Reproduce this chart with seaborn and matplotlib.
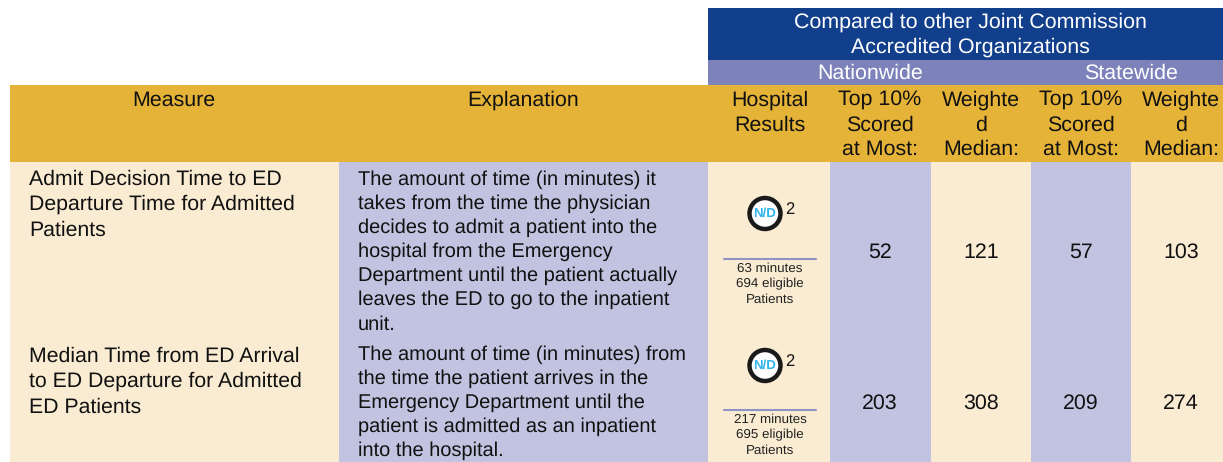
import numpy as np
import matplotlib
matplotlib.use("Agg")
import matplotlib.pyplot as plt
from matplotlib.colors import ListedColormap
from matplotlib.patches import Circle
import seaborn as sns

measures = ["Admit Decision Time to ED\nDeparture Time for Admitted\nPatients",
            "Median Time from ED Arrival\nto ED Departure for Admitted\nED Patients"]
explanations = ["The amount of time (in minutes) it\ntakes from the time the physician\ndecides to admit a patient into the\nhospital from the Emergency\nDepartment until the patient actually\nleaves the ED to go to the inpatient\nunit.",
                "The amount of time (in minutes) from\nthe time the patient arrives in the\nEmergency Department until the\npatient is admitted as an inpatient\ninto the hospital."]
hospital_notes = ["63 minutes\n694 eligible\nPatients", "217 minutes\n695 eligible\nPatients"]
nation_top = [52, 203]
nation_median = [121, 308]
state_top = [57, 209]
state_median = [103, 274]
col_titles = ["Measure", "Explanation", "Hospital\nResults", "Top 10%\nScored\nat Most:",
              "Weighte\nd\nMedian:", "Top 10%\nScored\nat Most:", "Weighte\nd\nMedian:"]

# colour of each table block, pixel widths / heights of the blocks
palette = ["#FFFFFF", "#123F8C", "#7D83BA", "#E4B338", "#F9ECD2", "#C1C3E0"]
col_widths = [10, 329, 369, 122, 101, 100, 100, 92]
row_heights = [8, 52, 25, 77, 300]
codes = np.array([[0, 0, 0, 0, 0, 0, 0, 0],
                  [0, 0, 0, 1, 1, 1, 1, 1],
                  [0, 0, 0, 2, 2, 2, 2, 2],
                  [0, 3, 3, 3, 3, 3, 3, 3],
                  [0, 4, 5, 4, 5, 4, 5, 4]])
pixels = np.repeat(np.repeat(codes, row_heights, axis=0), col_widths, axis=1)

sns.set_theme(style="white")
plt.rcParams['font.family'] = ['Liberation Sans', 'DejaVu Sans']
plt.rcParams['text.hinting'] = 'none'

fig = plt.figure(figsize=(12.23, 4.62), dpi=100)
ax = fig.add_axes([0, 0, 1, 1])
sns.heatmap(pixels, cmap=ListedColormap(palette), vmin=0, vmax=5, cbar=False,
            xticklabels=False, yticklabels=False, ax=ax)

FS = 15.4

ax.text(970, 35, "Compared to other Joint Commission\nAccredited Organizations", color="white",
        fontsize=FS, ha="center", va="center", linespacing=1.37)
ax.text(870, 73, "Nationwide", color="white", fontsize=FS, ha="center", va="center")
ax.text(1131, 73, "Statewide", color="white", fontsize=FS, ha="center", va="center")

col_centers = [174, 523, 770, 880, 981, 1081, 1181]
for cx, title in zip(col_centers, col_titles):
    ax.text(cx, 90.5, title, color="#111111", fontsize=FS, ha="center", va="top", linespacing=1.34)

measure_tops = [169.5, 346.5]
explain_tops = [170, 345]
value_base = [258, 409]
badge_y = [213.5, 365.5]
line_y = [259, 410]
for i in range(2):
    ax.text(29, measure_tops[i], measures[i], color="#111111", fontsize=15.3, va="top", linespacing=1.38)
    ax.text(358, explain_tops[i], explanations[i], color="#111111", fontsize=14.4, va="top", linespacing=1.38)
    ax.add_patch(Circle((765, badge_y[i]), 15.5, facecolor="white", edgecolor="#1A1A1A", lw=3.2))
    ax.text(765, badge_y[i], "N/D", color="#2DB5EE", fontsize=9.5, fontweight="bold", ha="center", va="center")
    ax.text(790, badge_y[i] - 3.5, "2", color="#111111", fontsize=12, ha="center", va="center")
    ax.plot([724, 816], [line_y[i], line_y[i]], color="#8F93C6", lw=1.5)
    ax.text(770, line_y[i] + 3, hospital_notes[i], color="#222222", fontsize=9.6, ha="center", va="top", linespacing=1.37)
    for cx, vals in zip(col_centers[3:], [nation_top, nation_median, state_top, state_median]):
        ax.text(cx, value_base[i], str(vals[i]), color="#111111", fontsize=FS, ha="center", va="baseline")

fig.savefig("out.png", dpi=100)
